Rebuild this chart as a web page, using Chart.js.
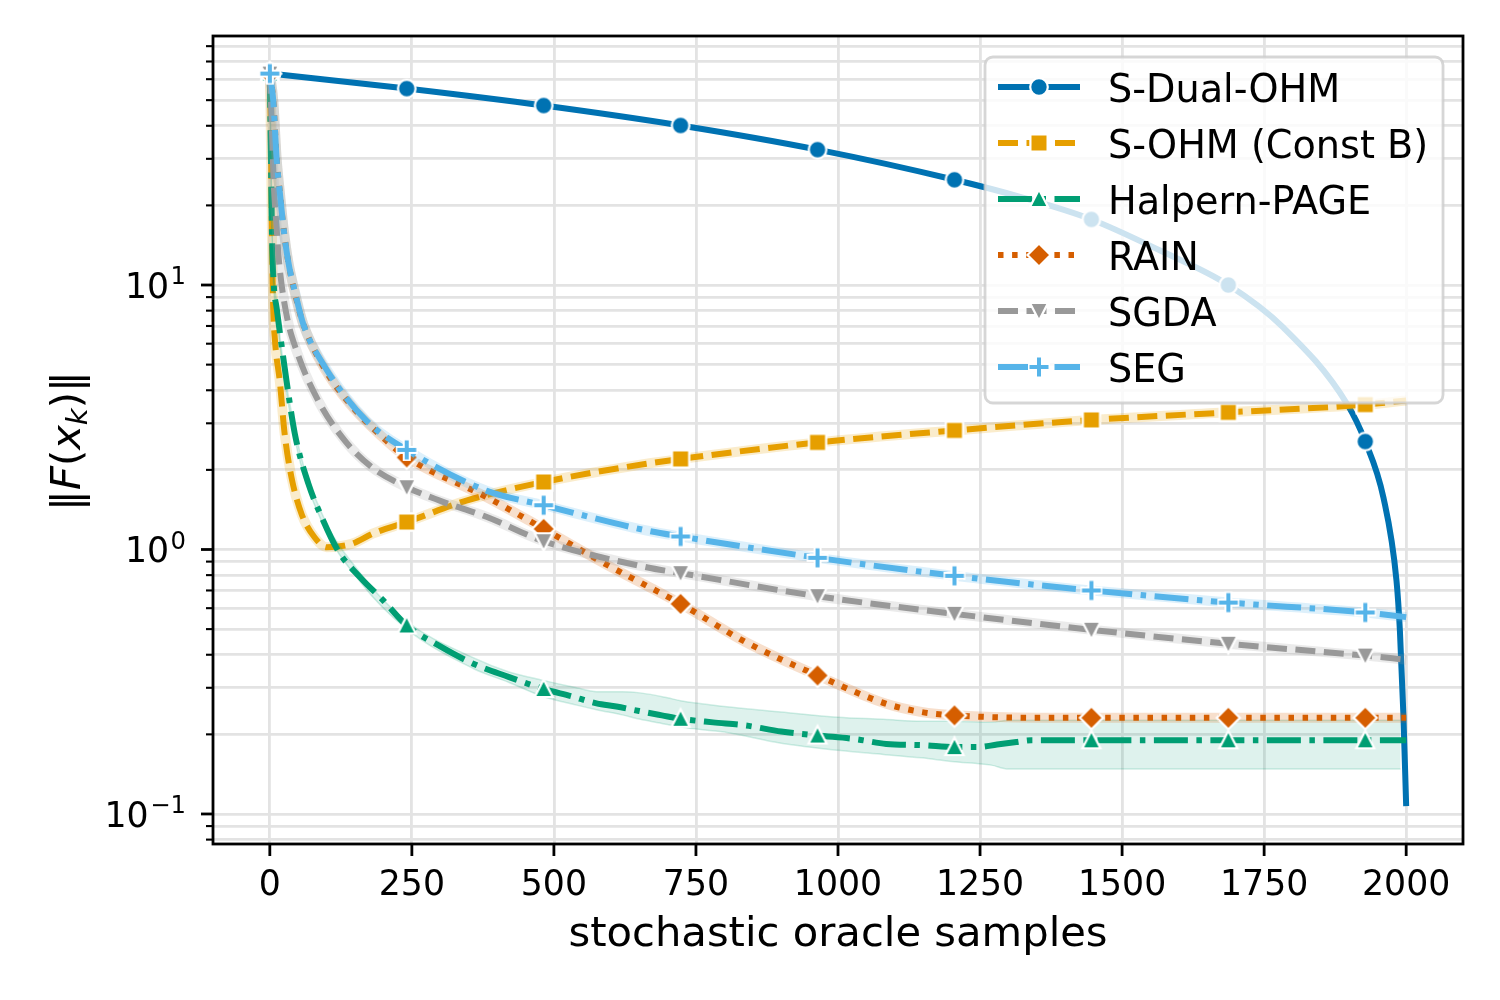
<!DOCTYPE html>
<html>
<head>
<meta charset="utf-8">
<script src="https://cdn.jsdelivr.net/npm/chart.js@4.4.1/dist/chart.umd.min.js"></script>
<style>
  html, body { margin: 0; padding: 0; background: #ffffff; }
  #wrap { width: 1500px; height: 1000px; }
</style>
</head>
<body>
<div id="wrap"><canvas id="chart"></canvas></div>
<script>
// Values (x = oracle samples, y = ||F(x_k)||)
const MARK_X = [0, 241, 482, 723, 964, 1205, 1446, 1687, 1928];
const X_TICKS = [0, 250, 500, 750, 1000, 1250, 1500, 1750, 2000];
const Y_DECADES = [0.1, 1, 10];
const Y_DECADE_EXP = ['\u22121', '0', '1'];

const DUAL_X = [0, 241, 482, 723, 964, 1205, 1325, 1446, 1567, 1687, 1784, 1896, 1928, 1960, 1983, 1989, 1995, 2000];
const DUAL_Y = [63.1, 55.3, 47.7, 40.1, 32.5, 25.0, 21.4, 17.7, 13.5, 10.0, 6.9, 3.55, 2.56, 1.57, 0.76, 0.49, 0.24, 0.107];

const SOHM_X = [0, 2, 4, 6, 9, 18, 26, 38, 56, 79, 100, 144, 182, 241, 346, 482, 663, 723, 964, 1205, 1446, 1687, 1928, 2000];
const SOHM_Y = [63, 35, 14, 8.2, 6.2, 4.24, 2.75, 1.88, 1.36, 1.11, 1.02, 1.05, 1.15, 1.27, 1.53, 1.80, 2.11, 2.20, 2.54, 2.82, 3.09, 3.30, 3.53, 3.66];

const HP_X = [0, 2, 4, 7, 12, 26, 44, 68, 91, 120, 160, 200, 241, 300, 358, 420, 482, 530, 575, 610, 650, 690, 723, 780, 838, 900, 964, 1030, 1085, 1150, 1205, 1246, 1280, 1314, 1340, 1446, 1687, 1928, 2000];
const HP_Y = [63, 30, 15, 10, 8.2, 4.89, 2.74, 1.77, 1.33, 0.99, 0.78, 0.641, 0.516, 0.43, 0.37, 0.33, 0.297, 0.279, 0.262, 0.255, 0.245, 0.236, 0.229, 0.222, 0.216, 0.205, 0.198, 0.192, 0.184, 0.182, 0.179, 0.179, 0.183, 0.187, 0.19, 0.19, 0.19, 0.19, 0.19];

// Halpern-PAGE shaded band
const HPB_X = [0, 4, 12, 44, 91, 160, 241, 358, 420, 481, 540, 575, 620, 652, 700, 723, 800, 900, 1000, 1080, 1147, 1200, 1270, 1300, 1400, 1990];
const HPB_HI = [65, 16, 8.6, 2.85, 1.38, 0.81, 0.535, 0.39, 0.345, 0.32, 0.30, 0.29, 0.29, 0.287, 0.275, 0.268, 0.255, 0.243, 0.232, 0.228, 0.224, 0.224, 0.222, 0.226, 0.226, 0.226];
const HPB_LO = [61, 14, 7.8, 2.63, 1.28, 0.75, 0.50, 0.355, 0.315, 0.278, 0.258, 0.248, 0.237, 0.228, 0.218, 0.213, 0.204, 0.185, 0.174, 0.168, 0.163, 0.158, 0.153, 0.148, 0.148, 0.148];

const RAIN_X = [0, 6, 12, 18, 24, 32, 47, 59, 97, 141, 205, 241, 381, 482, 590, 723, 838, 964, 1085, 1147, 1205, 1351, 1446, 1687, 1928, 2000];
const RAIN_Y = [63, 50, 30, 22, 16.5, 12.4, 8.8, 7.1, 4.8, 3.55, 2.58, 2.23, 1.58, 1.197, 0.883, 0.623, 0.446, 0.334, 0.261, 0.243, 0.236, 0.231, 0.231, 0.231, 0.231, 0.231];

const SGDA_X = [0, 3, 7, 12, 16, 29, 47, 85, 132, 179, 241, 299, 381, 482, 663, 723, 964, 1205, 1446, 1687, 1928, 2000];
const SGDA_Y = [63, 43, 24, 16.5, 12.4, 7.8, 5.65, 3.66, 2.58, 2.05, 1.72, 1.53, 1.33, 1.075, 0.857, 0.814, 0.666, 0.571, 0.497, 0.44, 0.397, 0.383];

const SEG_X = [0, 6, 12, 18, 24, 32, 47, 59, 97, 170, 241, 381, 482, 663, 723, 964, 1205, 1446, 1687, 1928, 2000];
const SEG_Y = [63, 50, 30, 22, 16.5, 12.4, 8.9, 7.1, 4.9, 3.07, 2.38, 1.67, 1.47, 1.18, 1.12, 0.93, 0.795, 0.70, 0.63, 0.578, 0.555];

const FONT = '"DejaVu Sans", sans-serif';
const LW = 6;
const DASHED = [20, 8.5];
const DASHDOT = [34, 8.5, 5.5, 8.5];
const DOTTED = [5.5, 8.6];

const SERIES = [
    { label: 'S-Dual-OHM', color: '#0072B2', dash: [], marker: 'circle', x: DUAL_X, y: DUAL_Y, halo: false },
    { label: 'S-OHM (Const B)', color: '#E69F00', dash: DASHED, marker: 'square', x: SOHM_X, y: SOHM_Y, halo: true },
    { label: 'Halpern-PAGE', color: '#009E73', dash: DASHDOT, marker: 'triUp', x: HP_X, y: HP_Y, halo: false, band: true },
    { label: 'RAIN', color: '#D55E00', dash: DOTTED, marker: 'diamond', x: RAIN_X, y: RAIN_Y, halo: true },
    { label: 'SGDA', color: '#999999', dash: DASHED, marker: 'triDown', x: SGDA_X, y: SGDA_Y, halo: true },
    { label: 'SEG', color: '#56B4E9', dash: DASHDOT, marker: 'plus', x: SEG_X, y: SEG_Y, halo: true }
];

function pts(xs, ys) {
    return xs.map(function(x, i) { return { x: x, y: ys[i] }; });
}

function rgba(hex, a) {
    const n = parseInt(hex.slice(1), 16);
    return 'rgba(' + (n >> 16) + ',' + ((n >> 8) & 255) + ',' + (n & 255) + ',' + a + ')';
}

// Marker bitmaps with white edge, like matplotlib's markeredgecolor='white'
function makeMarker(shape, color) {
    const c = document.createElement('canvas');
    c.width = 32; c.height = 32;
    const g = c.getContext('2d');
    g.translate(16, 16);
    if (shape === 'plus') {
        g.lineCap = 'butt';
        g.strokeStyle = '#ffffff'; g.lineWidth = 8;
        g.beginPath(); g.moveTo(-11, 0); g.lineTo(11, 0); g.moveTo(0, -11); g.lineTo(0, 11); g.stroke();
        g.strokeStyle = color; g.lineWidth = 4;
        g.beginPath(); g.moveTo(-9.5, 0); g.lineTo(9.5, 0); g.moveTo(0, -9.5); g.lineTo(0, 9.5); g.stroke();
        return c;
    }
    g.fillStyle = color; g.strokeStyle = '#ffffff'; g.lineWidth = 2.2; g.miterLimit = 3;
    g.beginPath();
    if (shape === 'circle') g.arc(0, 0, 8.8, 0, Math.PI * 2);
    else if (shape === 'square') g.rect(-8.6, -8.6, 17.2, 17.2);
    else if (shape === 'triUp') { g.moveTo(0, -9.5); g.lineTo(9, 8); g.lineTo(-9, 8); g.closePath(); }
    else if (shape === 'triDown') { g.moveTo(0, 9.5); g.lineTo(9, -8); g.lineTo(-9, -8); g.closePath(); }
    else if (shape === 'diamond') { g.moveTo(0, -11.5); g.lineTo(11.5, 0); g.lineTo(0, 11.5); g.lineTo(-11.5, 0); g.closePath(); }
    g.fill(); g.stroke();
    return c;
}

SERIES.forEach(function(s) { s.img = makeMarker(s.marker, s.color); });

function isMark(ctx) {
    return ctx.raw && MARK_X.indexOf(ctx.raw.x) >= 0;
}

// Build datasets; lower "order" is drawn on top
const datasets = [];
SERIES.forEach(function(s, i) {
    const base = 40 - 2 * i;
    if (s.band) {
        datasets.push({
            data: pts(HPB_X, HPB_LO), borderColor: rgba(s.color, 0.18), borderWidth: 1.5,
            pointRadius: 0, fill: false, order: base, cubicInterpolationMode: 'monotone', clip: 0
        });
        datasets.push({
            data: pts(HPB_X, HPB_HI), borderColor: rgba(s.color, 0.18), borderWidth: 1.5,
            backgroundColor: rgba(s.color, 0.13), pointRadius: 0, fill: '-1', order: base,
            cubicInterpolationMode: 'monotone', clip: 0
        });
    }
    if (s.halo) {
        datasets.push({
            data: pts(s.x, s.y), borderColor: rgba(s.color, 0.2), borderWidth: 10,
            pointRadius: 0, fill: false, order: base, cubicInterpolationMode: 'monotone', clip: 0
        });
    }
    datasets.push({
        label: s.label,
        data: pts(s.x, s.y),
        borderColor: s.color,
        borderWidth: LW,
        borderDash: s.dash,
        borderCapStyle: 'butt',
        borderJoinStyle: 'round',
        fill: false,
        cubicInterpolationMode: 'monotone',
        pointStyle: s.img,
        pointRadius: function(ctx) { return isMark(ctx) ? 9 : 0; },
        pointHoverRadius: 0,
        order: base - 1,
        clip: 0
    });
});

// y grid at every 1..9 x 10^n inside the axis range
const Y_MIN = 0.077, Y_MAX = 87.4;
const Y_GRID = [];
[-2, -1, 0, 1].forEach(function(e) {
    for (let m = 1; m <= 9; m++) {
        const v = parseFloat((m * Math.pow(10, e)).toPrecision(3));
        if (v >= Y_MIN && v <= Y_MAX) Y_GRID.push({ v: v, major: m === 1 });
    }
});

const GRID_COLOR = '#e3e3e3';

function drawLegend(ctx) {
    const bx = 985, by = 57, bw = 458, bh = 346, r = 8;
    ctx.save();
    ctx.beginPath();
    ctx.moveTo(bx + r, by);
    ctx.arcTo(bx + bw, by, bx + bw, by + bh, r);
    ctx.arcTo(bx + bw, by + bh, bx, by + bh, r);
    ctx.arcTo(bx, by + bh, bx, by, r);
    ctx.arcTo(bx, by, bx + bw, by, r);
    ctx.closePath();
    ctx.fillStyle = 'rgba(255,255,255,0.8)';
    ctx.fill();
    ctx.strokeStyle = 'rgba(204,204,204,0.8)';
    ctx.lineWidth = 2.8;
    ctx.stroke();

    SERIES.forEach(function(s, i) {
        const y = 87 + i * 56;
        ctx.strokeStyle = s.color;
        ctx.lineWidth = LW;
        ctx.lineCap = 'butt';
        ctx.setLineDash(s.dash);
        ctx.beginPath();
        ctx.moveTo(998, y);
        ctx.lineTo(1080, y);
        ctx.stroke();
        ctx.setLineDash([]);
        ctx.drawImage(s.img, 1039 - s.img.width / 2, y - s.img.height / 2);
        ctx.fillStyle = '#000';
        ctx.font = '38.2px ' + FONT;
        ctx.textAlign = 'left';
        ctx.textBaseline = 'alphabetic';
        ctx.fillText(s.label, 1108, y + 15);
    });
    ctx.restore();
}

function drawYTitle(ctx) {
    const size = 41.7;
    const parts = [
        { t: '\u2016', f: size + 'px ' + FONT, dy: 0 },
        { t: 'F', f: 'italic ' + size + 'px ' + FONT, dy: 0 },
        { t: '(', f: size + 'px ' + FONT, dy: 0 },
        { t: 'x', f: 'italic ' + size + 'px ' + FONT, dy: 0 },
        { t: 'k', f: 'italic ' + (size * 0.7).toFixed(1) + 'px ' + FONT, dy: 7 },
        { t: ')', f: size + 'px ' + FONT, dy: 0 },
        { t: '\u2016', f: size + 'px ' + FONT, dy: 0 }
    ];
    let total = 0;
    parts.forEach(function(p) { ctx.font = p.f; p.w = ctx.measureText(p.t).width; total += p.w; });
    ctx.save();
    ctx.translate(80, 441);
    ctx.rotate(-Math.PI / 2);
    ctx.fillStyle = '#000';
    ctx.textAlign = 'left';
    ctx.textBaseline = 'alphabetic';
    let x = -total / 2;
    parts.forEach(function(p) {
        ctx.font = p.f;
        ctx.fillText(p.t, x, p.dy);
        x += p.w;
    });
    ctx.restore();
}

const decorPlugin = {
    id: 'decor',
    afterDraw: function(chart) {
        const ctx = chart.ctx, a = chart.chartArea;
        const xs = chart.scales.x, ys = chart.scales.y;
        ctx.save();

        // frame
        ctx.strokeStyle = '#000';
        ctx.lineWidth = 2.8;
        ctx.strokeRect(a.left, a.top, a.right - a.left, a.bottom - a.top);

        // x ticks and labels
        ctx.fillStyle = '#000';
        ctx.font = '34.7px ' + FONT;
        ctx.textAlign = 'center';
        ctx.textBaseline = 'alphabetic';
        X_TICKS.forEach(function(v) {
            const px = xs.getPixelForValue(v);
            ctx.beginPath();
            ctx.moveTo(px, a.bottom);
            ctx.lineTo(px, a.bottom + 12);
            ctx.stroke();
            ctx.fillText(String(v), px, 895);
        });

        // y ticks (major + minor)
        Y_GRID.forEach(function(t) {
            const py = ys.getPixelForValue(t.v);
            ctx.lineWidth = t.major ? 2.8 : 2.1;
            ctx.beginPath();
            ctx.moveTo(a.left, py);
            ctx.lineTo(a.left - (t.major ? 12 : 7), py);
            ctx.stroke();
        });

        // y labels 10^n
        Y_DECADES.forEach(function(v, i) {
            const py = ys.getPixelForValue(v);
            ctx.textAlign = 'right';
            ctx.font = '24.3px ' + FONT;
            const sup = Y_DECADE_EXP[i];
            const ws = ctx.measureText(sup).width;
            ctx.fillText(sup, 186, py - 0.7);
            ctx.font = '34.7px ' + FONT;
            ctx.fillText('10', 186 - ws - 1.5, py + 12.7);
        });

        // axis titles
        ctx.textAlign = 'center';
        ctx.font = '41.7px ' + FONT;
        ctx.fillText('stochastic oracle samples', (a.left + a.right) / 2, 946);
        drawYTitle(ctx);

        ctx.restore();
        drawLegend(ctx);
    }
};

new Chart(document.getElementById('chart'), {
    type: 'line',
    data: { datasets: datasets },
    options: {
        responsive: true,
        maintainAspectRatio: false,
        animation: false,
        devicePixelRatio: 1,
        events: [],
        layout: {
            autoPadding: false,
            padding: { left: 0, right: 37, top: 36, bottom: 0 }
        },
        plugins: {
            legend: { display: false },
            tooltip: { enabled: false }
        },
        scales: {
            x: {
                type: 'linear',
                min: -100,
                max: 2100,
                border: { display: false },
                grid: { color: GRID_COLOR, lineWidth: 2.8, drawTicks: false },
                ticks: { display: false },
                afterBuildTicks: function(scale) {
                    scale.ticks = X_TICKS.map(function(v) { return { value: v }; });
                },
                afterFit: function(scale) { scale.height = 156; }
            },
            y: {
                type: 'logarithmic',
                min: Y_MIN,
                max: Y_MAX,
                border: { display: false },
                grid: { color: GRID_COLOR, lineWidth: 2.8, drawTicks: false },
                ticks: { display: false },
                afterBuildTicks: function(scale) {
                    scale.ticks = Y_GRID.map(function(t) { return { value: t.v }; });
                },
                afterFit: function(scale) { scale.width = 213; }
            }
        }
    },
    plugins: [decorPlugin]
});
</script>
</body>
</html>
